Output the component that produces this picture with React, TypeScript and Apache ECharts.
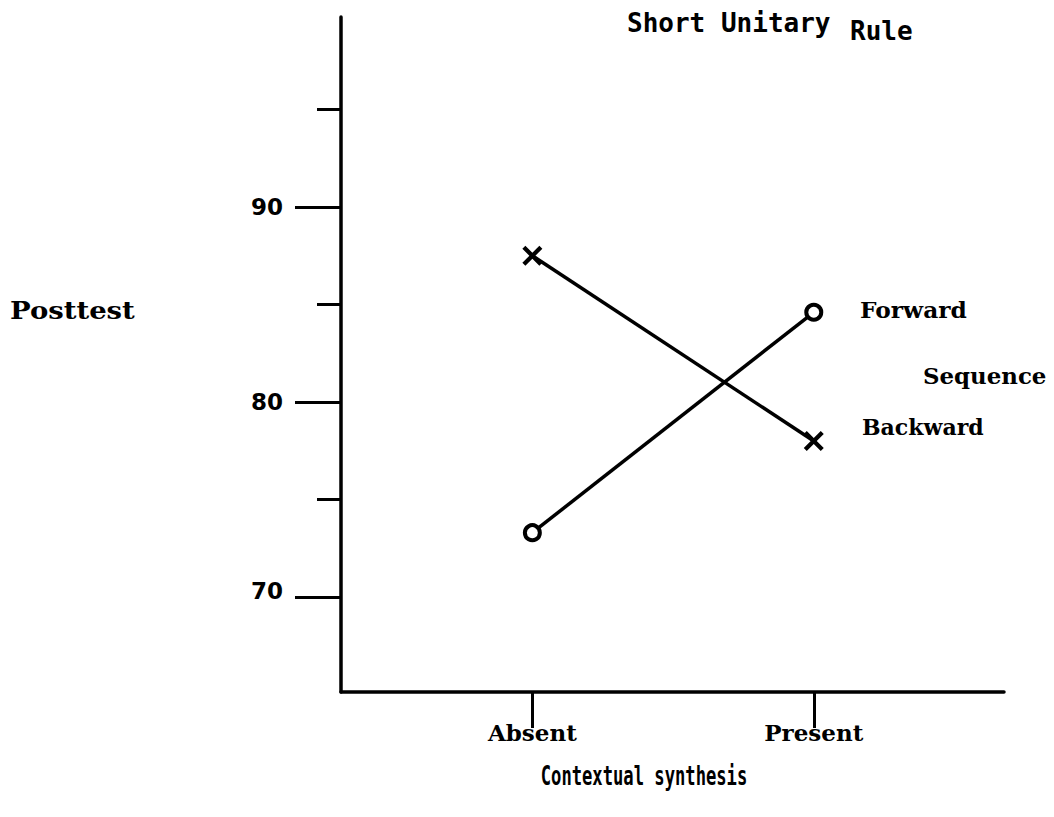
import React, { useEffect, useRef } from 'react';
import * as echarts from 'echarts';

const categories = ['Absent', 'Present'];
const categoryPositions = [1, 2];
const forwardValues = [73.3, 84.6];
const backwardValues = [87.5, 78.0];
const yLabeledTicks = [70, 80, 90];
const yMinorTicks = [75, 85, 95];
const seriesNames = ['Forward', 'Backward'];
const titleMain = 'Short Unitary';
const titleEnd = 'Rule';
const yTitle = 'Posttest';
const xTitle = 'Contextual synthesis';
const legendTitle = 'Sequence';

const INK = '#000000';
const CROSS =
  'path://M0,3 L3,0 L10,7 L17,0 L20,3 L13,10 L20,17 L17,20 L10,13 L3,20 L0,17 L7,10 Z';

export default function App() {
  const ref = useRef<HTMLDivElement>(null);

  useEffect(() => {
    document.body.style.margin = '0';
    const chart = echarts.init(ref.current as HTMLDivElement, null, { renderer: 'svg' });

    const yMin = 65.13;
    const yMax = 99.74;
    const xMin = 0.32;
    const xMax = 2.676;

    const option: any = {
      animation: false,
      backgroundColor: '#ffffff',
      grid: { left: 341, top: 17, right: 50, bottom: 125, containLabel: false },
      xAxis: {
        type: 'value',
        min: xMin,
        max: xMax,
        splitLine: { show: false },
        axisLine: { show: true, lineStyle: { color: INK, width: 3.5 } },
        axisTick: {
          show: true,
          inside: false,
          length: 36,
          customValues: categoryPositions,
          lineStyle: { color: INK, width: 3 },
        },
        axisLabel: {
          show: true,
          customValues: categoryPositions,
          margin: 29,
          color: INK,
          fontFamily: 'DejaVu Serif',
          fontWeight: 'bold',
          fontSize: 23,
          formatter: (v: number) => {
            const i = categoryPositions.indexOf(Math.round(v));
            return i >= 0 ? categories[i] : '';
          },
        },
      },
      yAxis: [
        {
          type: 'value',
          min: yMin,
          max: yMax,
          position: 'left',
          splitLine: { show: false },
          axisLine: { show: true, onZero: false, lineStyle: { color: INK, width: 3.5 } },
          axisTick: {
            show: true,
            inside: false,
            length: 46,
            customValues: yLabeledTicks,
            lineStyle: { color: INK, width: 3 },
          },
          axisLabel: {
            show: true,
            customValues: yLabeledTicks,
            margin: 58,
            color: INK,
            fontFamily: 'DejaVu Sans',
            fontWeight: 'bold',
            fontSize: 23,
            formatter: (v: number) => (v === yLabeledTicks[0] ? '{low|' + v + '}' : String(v)),
            rich: {
              low: {
                fontFamily: 'DejaVu Sans',
                fontWeight: 'bold',
                fontSize: 23,
                color: INK,
                padding: [0, 0, 12, 0],
              },
            },
          },
        },
        {
          type: 'value',
          min: yMin,
          max: yMax,
          position: 'left',
          splitLine: { show: false },
          axisLine: { show: false },
          axisTick: {
            show: true,
            inside: false,
            length: 24,
            customValues: yMinorTicks,
            lineStyle: { color: INK, width: 3 },
          },
          axisLabel: { show: false },
        },
      ],
      series: [
        {
          name: seriesNames[0],
          type: 'line',
          yAxisIndex: 0,
          data: categoryPositions.map((x, i) => [x, forwardValues[i]]),
          lineStyle: { color: INK, width: 3.5 },
          symbol: 'circle',
          symbolSize: 15,
          itemStyle: { color: '#ffffff', borderColor: INK, borderWidth: 4 },
          z: 3,
        },
        {
          name: seriesNames[1],
          type: 'line',
          yAxisIndex: 0,
          data: categoryPositions.map((x, i) => [x, backwardValues[i]]),
          lineStyle: { color: INK, width: 3.5 },
          symbol: CROSS,
          symbolSize: 20,
          itemStyle: { color: INK, borderWidth: 0 },
          z: 3,
        },
      ],
      graphic: [
        {
          type: 'text',
          x: 627,
          y: 23,
          style: {
            text: titleMain,
            fill: INK,
            font: 'bold 26px "DejaVu Sans Mono"',
            textAlign: 'left',
            textVerticalAlign: 'middle',
          },
        },
        {
          type: 'text',
          x: 850,
          y: 31,
          style: {
            text: titleEnd,
            fill: INK,
            font: 'bold 26px "DejaVu Sans Mono"',
            textAlign: 'left',
            textVerticalAlign: 'middle',
          },
        },
        {
          type: 'text',
          x: 10,
          y: 310,
          scaleX: 1.1,
          style: {
            text: yTitle,
            fill: INK,
            font: 'bold 25px "DejaVu Serif"',
            textAlign: 'left',
            textVerticalAlign: 'middle',
          },
        },
        {
          type: 'text',
          x: 860,
          y: 310,
          scaleX: 1.06,
          style: {
            text: seriesNames[0],
            fill: INK,
            font: 'bold 22px "DejaVu Serif"',
            textAlign: 'left',
            textVerticalAlign: 'middle',
          },
        },
        {
          type: 'text',
          x: 923,
          y: 376,
          scaleX: 1.04,
          style: {
            text: legendTitle,
            fill: INK,
            font: 'bold 22px "DejaVu Serif"',
            textAlign: 'left',
            textVerticalAlign: 'middle',
          },
        },
        {
          type: 'text',
          x: 862,
          y: 427,
          style: {
            text: seriesNames[1],
            fill: INK,
            font: 'bold 22px "DejaVu Serif"',
            textAlign: 'left',
            textVerticalAlign: 'middle',
          },
        },
        {
          type: 'text',
          x: 644,
          y: 776,
          scaleX: 0.66,
          style: {
            text: xTitle,
            fill: INK,
            font: 'bold 26px "DejaVu Sans Mono"',
            textAlign: 'center',
            textVerticalAlign: 'middle',
          },
        },
      ],
    };

    chart.setOption(option);
    return () => chart.dispose();
  }, []);

  return <div ref={ref} style={{ width: 1054, height: 817 }} />;
}
